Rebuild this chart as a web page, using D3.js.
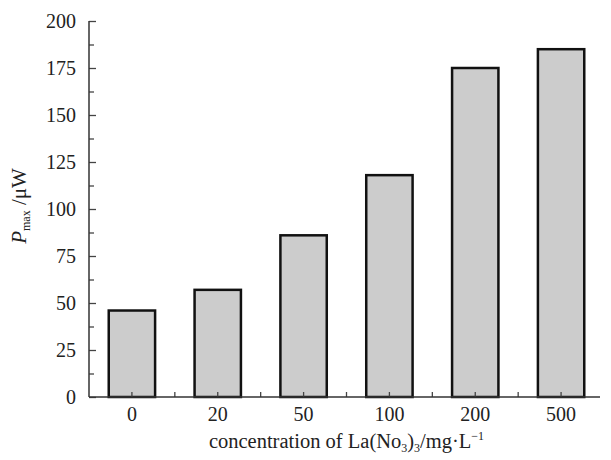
<!DOCTYPE html>
<html><head><meta charset="utf-8">
<script src="https://cdn.jsdelivr.net/npm/d3@7"></script>
<style>body{margin:0;background:#fff}svg{display:block}svg text{font-family:"Liberation Serif","Times New Roman","DejaVu Serif",serif}</style>
</head><body>
<script>
const categories = ["0", "20", "50", "100", "200", "500"];
const values = [46, 57, 86, 118, 175, 185];
const yTicks = [0, 25, 50, 75, 100, 125, 150, 175, 200];
const yMinorTicks = [12.5, 37.5, 62.5, 87.5, 112.5, 137.5, 162.5, 187.5];

(function () {
const W = 611, H = 460;
const mLeft = 89, mRight = 604, mTop = 21, mBottom = 397;
const svg = d3.select("body").append("svg").attr("width", W).attr("height", H);

const x = d3.scaleBand().domain(categories).range([mLeft, mRight]).paddingInner(0.46).paddingOuter(0.23);
const y = d3.scaleLinear().domain([0, 200]).range([mBottom, mTop]);

// bars
svg.selectAll("rect.bar").data(values).enter().append("rect")
  .attr("class", "bar")
  .attr("x", (d, i) => x(categories[i]))
  .attr("width", x.bandwidth())
  .attr("y", d => y(d))
  .attr("height", d => y(0) - y(d))
  .attr("fill", "#cccccc").attr("stroke", "#111").attr("stroke-width", 2.5);

// y axis
const gy = svg.append("g").attr("transform", `translate(${mLeft},0)`)
  .call(d3.axisRight(y).tickValues(yTicks).tickSize(7).tickFormat(""));
gy.select(".domain").remove();
const gyMinor = svg.append("g").attr("transform", `translate(${mLeft},0)`)
  .call(d3.axisRight(y).tickValues(yMinorTicks).tickSize(5).tickFormat(""));
gyMinor.select(".domain").remove();
svg.selectAll("g .tick line").attr("stroke", "#444").attr("stroke-width", 1.3);

svg.append("g").selectAll("text").data(yTicks).enter().append("text")
  .attr("x", 76).attr("y", d => y(d)).attr("dy", "0.35em")
  .attr("text-anchor", "end").attr("font-size", 20).attr("fill", "#222")
  .text(d => d);

// x axis ticks (upward, at centers and between bars)
const step = x.step();
const centers = categories.map(c => x(c) + x.bandwidth() / 2);
const between = centers.slice(0, -1).map((c) => c + step / 2);
svg.append("g").selectAll("line").data(centers.concat(between)).enter().append("line")
  .attr("x1", d => d).attr("x2", d => d).attr("y1", mBottom).attr("y2", mBottom - 5)
  .attr("stroke", "#444").attr("stroke-width", 1.3);

// axes lines
svg.append("line").attr("x1", mLeft).attr("x2", mLeft).attr("y1", mTop).attr("y2", mBottom)
  .attr("stroke", "#333").attr("stroke-width", 1.5);
svg.append("line").attr("x1", mLeft).attr("x2", 600).attr("y1", mBottom).attr("y2", mBottom)
  .attr("stroke", "#333").attr("stroke-width", 1.5);

// x labels
svg.append("g").selectAll("text").data(categories).enter().append("text")
  .attr("x", d => x(d) + x.bandwidth() / 2).attr("y", 421)
  .attr("text-anchor", "middle").attr("font-size", 20).attr("fill", "#222")
  .text(d => d);

// x title
const xt = svg.append("text").attr("x", (mLeft + mRight) / 2).attr("y", 448)
  .attr("text-anchor", "middle").attr("font-size", 20.5).attr("fill", "#222");
xt.append("tspan").text("concentration of La(No");
xt.append("tspan").attr("font-size", 12).attr("dy", 4).text("3");
xt.append("tspan").attr("dy", -4).text(")");
xt.append("tspan").attr("font-size", 12).attr("dy", 4).text("3");
xt.append("tspan").attr("dy", -4).text("/mg·L");
xt.append("tspan").attr("font-size", 12).attr("dy", -8).text("−1");

// y title
const yt = svg.append("text").attr("transform", "translate(26,206) rotate(-90)")
  .attr("text-anchor", "middle").attr("font-size", 21).attr("fill", "#222");
yt.append("tspan").attr("font-style", "italic").text("P");
yt.append("tspan").attr("font-size", 12).attr("dy", 4).text("max");
yt.append("tspan").attr("dy", -4).text(" /μW");
})();
</script>
</body></html>
